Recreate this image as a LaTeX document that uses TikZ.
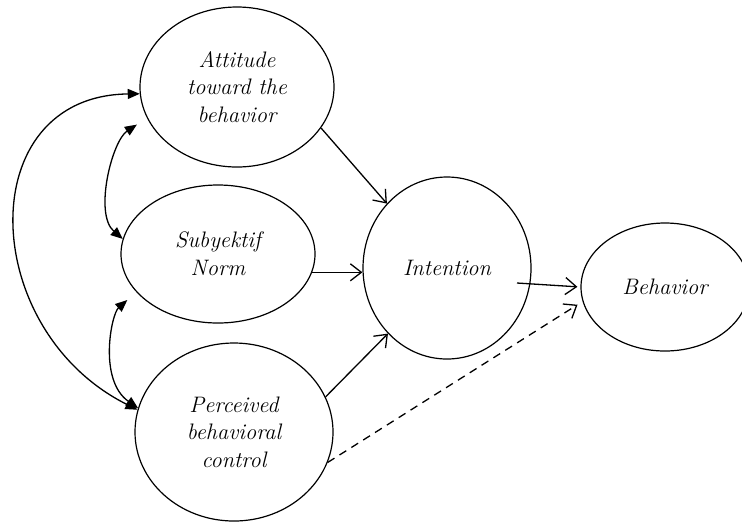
\documentclass[tikz,border=0pt]{standalone}
\usetikzlibrary{shapes.geometric,arrows.meta}
\begin{document}
\begin{tikzpicture}[x=0.5pt,y=-0.5pt,
  ell/.style={ellipse, draw, line width=0.6pt, inner sep=0pt, align=center,
    font=\fontsize{11.2}{13.8}\selectfont\itshape},
  arr/.style={-{Straight Barb[length=5.5pt,width=8.5pt]}, line width=0.65pt},
  dbl/.style={{Triangle[length=6pt,width=5pt]}-{Triangle[length=6pt,width=5pt]}, line width=0.65pt}]
\useasboundingbox (0,0) rectangle (742,526);
\node[ell, minimum width=97pt, minimum height=80pt] (att) at (237,87) {Attitude\\toward the\\behavior};
\node[ell, minimum width=97pt, minimum height=69pt] (norm) at (218,254) {Subyektif\\Norm};
\node[ell, minimum width=99pt, minimum height=89pt] (perc) at (234,432) {Perceived\\behavioral\\control};
\node[ell, minimum width=84pt, minimum height=91pt] (int) at (447,268) {Intention};
\node[ell, minimum width=84pt, minimum height=64pt] (beh) at (665,287) {Behavior};
% straight arrows
\draw[arr] (att.-26) -- (int.133);
\draw[arr] (norm.-11) -- (norm.-11 -| int.west);
\draw[arr] (perc.21) -- (int.-132);
\draw[arr, shorten >=1.5pt] ([shift={(70,15)}]int.center) -- (beh.west);
\draw[arr, dashed, dash pattern=on 4pt off 3pt, shorten >=3pt] (perc.-18) -- (beh.190);
% curved double arrows
\draw[dbl] (att.184) .. controls +(-168,2) and +(-160,-80) .. (perc.167);
\draw[dbl, shorten <=6pt] (att.199) .. controls +(-35,23) and +(-29,-25) .. (norm.171);
\draw[dbl, shorten <=6pt] (norm.205) .. controls +(-25,22) and +(-40,-28) .. (perc.166);
\end{tikzpicture}
\end{document}
